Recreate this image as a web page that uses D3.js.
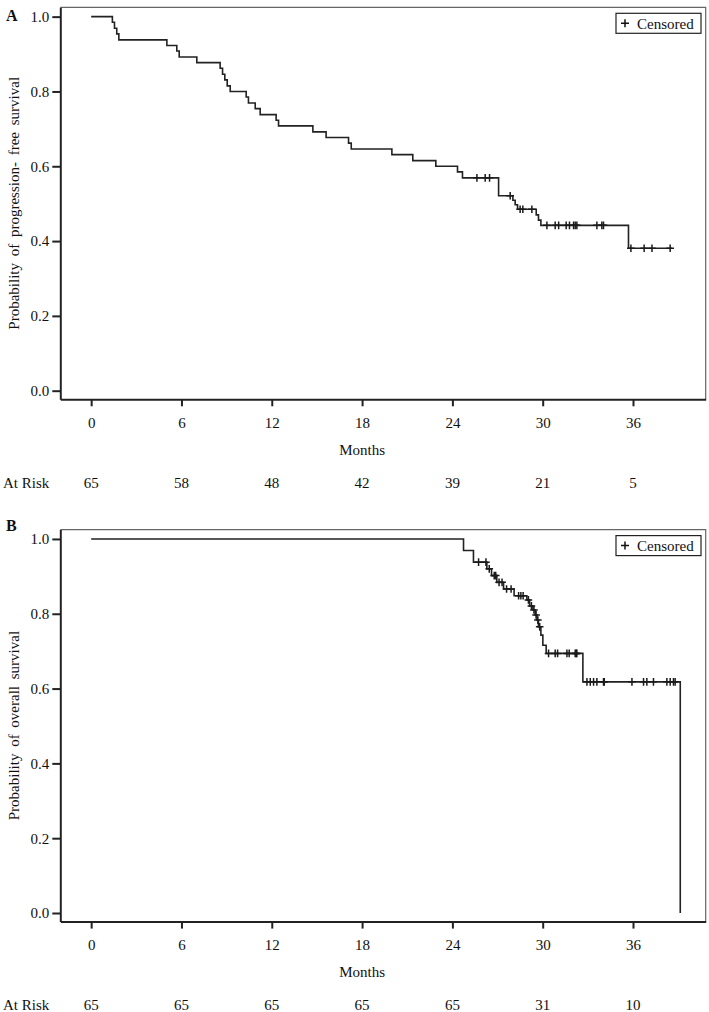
<!DOCTYPE html>
<html>
<head>
<meta charset="utf-8">
<script src="https://cdn.jsdelivr.net/npm/d3@7"></script>
<style>
  html, body { margin: 0; padding: 0; background: #fff; }
  svg { display: block; }
  text { font-family: "Liberation Serif", "Times New Roman", serif; fill: #111; }
</style>
</head>
<body>
<svg id="chart" width="709" height="1012"></svg>
<script>
// ---------- data ----------
const monthTicks = [0, 6, 12, 18, 24, 30, 36];
const survTicks = [0, 0.2, 0.4, 0.6, 0.8, 1.0];

// Panel A: progression-free survival (event times in months, survival after event)
const pfsTimes = [0, 1.41, 1.55, 1.70, 1.84, 5.03, 5.69, 5.85, 7.02, 8.57, 8.73, 8.88, 9.04, 9.24,
  10.30, 10.45, 10.90, 11.23, 12.29, 12.45, 14.73, 15.61, 17.10, 17.28, 19.98, 21.37, 22.90,
  24.34, 24.67, 27.07, 28.02, 28.17, 28.33, 29.57, 29.72, 29.88, 35.70, 38.60];
const pfsSurv = [1.0, 0.985, 0.969, 0.954, 0.938, 0.923, 0.908, 0.892, 0.877, 0.862, 0.846, 0.831, 0.815, 0.800,
  0.785, 0.769, 0.754, 0.738, 0.723, 0.708, 0.692, 0.677, 0.662, 0.646, 0.631, 0.615, 0.600,
  0.585, 0.569, 0.521, 0.509, 0.497, 0.485, 0.470, 0.456, 0.442, 0.381, 0.381];
const pfsCensor = [25.63, 26.18, 26.47, 27.84, 28.50, 28.68, 29.28, 30.28, 30.83, 31.06, 31.56, 31.78,
  32.05, 32.16, 32.27, 33.60, 33.93, 34.04, 35.86, 36.74, 37.26, 38.47];
const pfsAtRisk = [65, 58, 48, 42, 39, 21, 5];

// Panel B: overall survival
const osTimes = [0, 24.74, 25.40, 26.29, 26.60, 26.95, 27.40, 28.10, 28.95, 29.13, 29.35, 29.50,
  29.62, 29.72, 29.88, 30.01, 30.23, 32.67, 39.14];
const osSurv = [1.0, 0.969, 0.938, 0.920, 0.902, 0.884, 0.866, 0.848, 0.837, 0.821, 0.810, 0.797,
  0.783, 0.765, 0.743, 0.716, 0.694, 0.618, 0.0];
const osCensor = [25.74, 26.23, 26.45, 26.78, 26.88, 27.10, 27.30, 27.60, 27.90, 28.40, 28.55, 28.70,
  29.05, 29.25, 29.42, 29.56, 29.68, 29.80,
  30.39, 30.83, 30.99, 31.61, 31.76, 32.16, 32.23, 32.27,
  32.94, 33.16, 33.38, 33.60, 34.04, 34.09, 35.93, 36.70, 36.92, 37.36, 38.25, 38.47, 38.69, 38.80];
const osAtRisk = [65, 65, 65, 65, 65, 31, 10];

// ---------- drawing ----------
const svg = d3.select("#chart");
const FS = 15;

function panel(cfg) {
  const g = svg.append("g").attr("transform", `translate(0,${cfg.offsetY})`);
  const x = d3.scaleLinear().domain([-2.05, 40.83]).range([60.3, 705.7]);
  const y = d3.scaleLinear().domain([-0.023, 1.025]).range([399.3, 7.3]);

  // frame (top and right)
  g.append("path")
    .attr("d", `M${x(-2.05)},${y(1.025)}H${x(40.83)}V${y(-0.023)}`)
    .attr("fill", "none").attr("stroke", "#666").attr("stroke-width", 1.2);

  // y axis
  const ya = g.append("g").attr("transform", `translate(${x(-2.05)},0)`)
    .call(d3.axisLeft(y).tickValues(survTicks).tickFormat(d3.format(".1f"))
      .tickSize(8).tickSizeOuter(0).tickPadding(3));
  // x axis
  const xa = g.append("g").attr("transform", `translate(0,${y(-0.023)})`)
    .call(d3.axisBottom(x).tickValues(monthTicks).tickFormat(d3.format("d"))
      .tickSize(7).tickSizeOuter(0).tickPadding(11));
  [ya, xa].forEach(a => {
    a.select(".domain").attr("stroke", "#222").attr("stroke-width", 2);
    a.selectAll(".tick line").attr("stroke", "#222").attr("stroke-width", 2);
    a.selectAll(".tick text").attr("font-family", "Liberation Serif, serif")
      .attr("font-size", FS).attr("fill", "#111");
  });

  // step curve
  const pts = cfg.times.map((t, i) => [t, cfg.surv[i]]);
  const line = d3.line().x(d => x(d[0])).y(d => y(d[1])).curve(d3.curveStepAfter);
  g.append("path").datum(pts).attr("d", line)
    .attr("fill", "none").attr("stroke", "#222").attr("stroke-width", 1.6);

  // censor marks
  const survAt = t => cfg.surv[Math.max(0, d3.bisectRight(cfg.times, t) - 1)];
  const plus = (px, py, a) => `M${px - a},${py}H${px + a}M${px},${py - a}V${py + a}`;
  g.append("g").selectAll("path").data(cfg.censor).join("path")
    .attr("d", t => plus(x(t), y(survAt(t)), 3.8))
    .attr("fill", "none").attr("stroke", "#1a1a1a").attr("stroke-width", 1.5);

  // legend
  g.append("rect").attr("x", 616).attr("y", 13.3).attr("width", 85).attr("height", 20)
    .attr("fill", "#fff").attr("stroke", "#222").attr("stroke-width", 1.2);
  g.append("path").attr("d", plus(625, 23.3, 4))
    .attr("stroke", "#111").attr("stroke-width", 1.5);
  g.append("text").attr("x", 637).attr("y", 28.6).attr("font-size", FS).text("Censored");

  // axis titles
  g.append("text").attr("x", x(18)).attr("y", 455).attr("text-anchor", "middle")
    .attr("font-size", FS).text("Months");
  g.append("text")
    .attr("transform", `translate(19,${(y(1.025) + y(-0.023)) / 2}) rotate(-90)`)
    .attr("text-anchor", "middle").attr("font-size", FS).attr("word-spacing", 3)
    .text(cfg.yTitle);

  // at risk row
  g.append("text").attr("x", 3).attr("y", 488).attr("font-size", FS).text("At Risk");
  g.append("g").selectAll("text").data(cfg.atRisk).join("text")
    .attr("x", (d, i) => x(monthTicks[i])).attr("y", 488)
    .attr("text-anchor", "middle").attr("font-size", FS).text(d => d);

  // panel letter
  svg.append("text").attr("x", cfg.letterX).attr("y", cfg.letterY)
    .attr("font-family", "Liberation Sans, Arial, sans-serif").attr("font-weight", "bold")
    .attr("font-size", 16).attr("fill", "#111").text(cfg.letter);
}

panel({ offsetY: 0, times: pfsTimes, surv: pfsSurv, censor: pfsCensor, atRisk: pfsAtRisk,
  yTitle: "Probability of progression- free survival", letter: "A", letterX: 6, letterY: 21 });
panel({ offsetY: 522.3, times: osTimes, surv: osSurv, censor: osCensor, atRisk: osAtRisk,
  yTitle: "Probability of overall survival", letter: "B", letterX: 6, letterY: 531 });
</script>
</body>
</html>
